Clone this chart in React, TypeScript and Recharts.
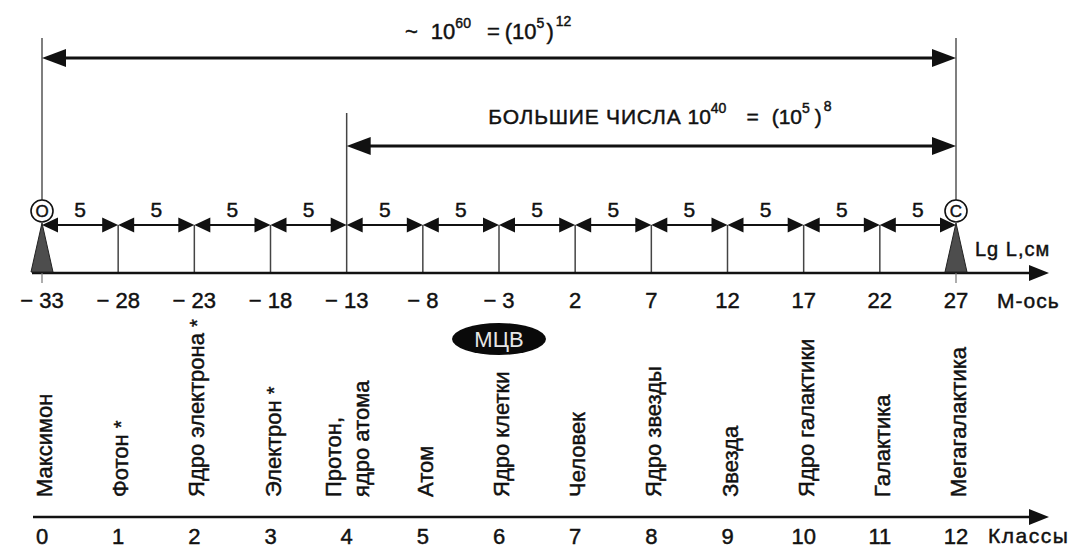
import React from 'react';
import { ComposedChart, XAxis, YAxis, ReferenceLine, ReferenceDot, Scatter } from 'recharts';

// М-ось: lg L, см
const mTicks = [-33, -28, -23, -18, -13, -8, -3, 2, 7, 12, 17, 22, 27];
const fullRange = [-33, 27];
const bigNumbersRange = [-13, 27];
const axisEnds = [
  { m: -33, letter: 'О' },
  { m: 27, letter: 'С' },
];

// классы
const classIds = [0, 1, 2, 3, 4, 5, 6, 7, 8, 9, 10, 11, 12];
const classNames = [
  'Максимон',
  'Фотон*',
  'Ядро электрона*',
  'Электрон*',
  'Протон,\nядро атома',
  'Атом',
  'Ядро клетки',
  'Человек',
  'Ядро звезды',
  'Звезда',
  'Ядро галактики',
  'Галактика',
  'Мегагалактика',
];
const mcvClass = 6;

const segments = mTicks.slice(1).map((to, i) => ({ from: mTicks[i], to, len: to - mTicks[i] }));
const innerTicks = mTicks.filter((t) => t !== fullRange[0] && t !== fullRange[1] && t !== bigNumbersRange[0]);

// layout (page px, both y-axes run in page pixels)
const W = 1079;
const H = 548;
const LEFT = 42;
const RIGHT = 123;
const Y_TOP_LINE = 38;
const Y_TOP_TEXT = 39;
const Y_TOP_ARROW = 58;
const Y_BIG_LINE = 113;
const Y_BIG_TEXT = 124;
const Y_BIG_ARROW = 146;
const Y_MARK = 211;
const Y_SEG = 225;
const Y_AXIS_M = 273;
const H_TOP = 322;
const Y_B0 = 310;
const Y_MCV = 339;
const Y_LABEL = 497;
const Y_AXIS_C = 517;

const FONT = '"Liberation Sans", Arial, sans-serif';
const INK = '#111';
const HEAVY = { stroke: INK, strokeWidth: 0.45 };

const fmtM = (v: number) => (v < 0 ? `\u2212\u00a0${Math.abs(v)}` : `${v}`);

const makeArrow =
  (head: number, half: number, width: number, start: boolean, end: boolean, ext: [number, number] = [0, 0]) =>
  (p: any) => {
    const x1 = p.x1 - ext[0];
    const x2 = p.x2 + ext[1];
    const y = p.y1;
    return (
      <g>
        <line
          x1={start ? x1 + head * 0.6 : x1}
          y1={y}
          x2={end ? x2 - head * 0.6 : x2}
          y2={y}
          stroke={INK}
          strokeWidth={width}
        />
        {start && <polygon points={`${x1},${y} ${x1 + head},${y - half} ${x1 + head},${y + half}`} fill={INK} />}
        {end && <polygon points={`${x2},${y} ${x2 - head},${y - half} ${x2 - head},${y + half}`} fill={INK} />}
      </g>
    );
  };

const bigArrow = makeArrow(24, 9, 3, true, true);
const segArrow = makeArrow(16, 7.5, 2, true, true);
const mAxisArrow = makeArrow(20, 8, 2.5, false, true, [10, 93]);
const cAxisArrow = makeArrow(20, 8, 2.5, false, true, [9, 93]);

const TopFormula = (p: any) => (
  <text x={p.cx - 94} y={p.cy} fontSize={22} fill={INK} {...HEAVY}>
    <tspan>~</tspan>
    <tspan dx={13}>10</tspan>
    <tspan dy={-11} fontSize={14}>60</tspan>
    <tspan dx={16} dy={11}>=</tspan>
    <tspan dx={5}>(10</tspan>
    <tspan dy={-11} fontSize={14}>5</tspan>
    <tspan dx={2} dy={11}>)</tspan>
    <tspan dx={2} dy={-13} fontSize={14}>12</tspan>
  </text>
);

const BigFormula = (p: any) => (
  <text x={p.cx - 163} y={p.cy} fontSize={21} fill={INK} {...HEAVY}>
    <tspan letterSpacing={0.8}>БОЛЬШИЕ ЧИСЛА</tspan>
    <tspan dx={6}>10</tspan>
    <tspan dy={-11} fontSize={14}>40</tspan>
    <tspan dx={20} dy={11}>=</tspan>
    <tspan dx={13}>(10</tspan>
    <tspan dy={-11} fontSize={14}>5</tspan>
    <tspan dx={5} dy={11}>)</tspan>
    <tspan dx={2} dy={-13} fontSize={14}>8</tspan>
  </text>
);

const EndMark = (letter: string) => (p: any) => (
  <g>
    <circle cx={p.cx} cy={p.cy} r={11} fill="#fff" stroke={INK} strokeWidth={1.6} />
    <text x={p.cx} y={p.cy + 6} textAnchor="middle" fontSize={17} fill={INK} {...HEAVY}>
      {letter}
    </text>
  </g>
);

const Pointer = (p: any) => (
  <g>
    <line x1={p.cx} y1={p.cy} x2={p.cx} y2={p.cy + 10} stroke="#777" strokeWidth={1.2} />
    <polygon
      points={`${p.cx},${p.cy - 50} ${p.cx - 11},${p.cy - 1} ${p.cx + 11},${p.cy - 1}`}
      fill="#4d4d4d"
      stroke="#222"
      strokeWidth={1}
    />
  </g>
);

const MAxisNames = (p: any) => (
  <g fill={INK}>
    <text x={p.cx + 19} y={p.cy - 17} fontSize={20} letterSpacing={1} {...HEAVY}>
      Lg L,см
    </text>
    <text x={p.cx + 41} y={p.cy + 35} fontSize={21} letterSpacing={1} {...HEAVY}>
      М-ось
    </text>
  </g>
);

const ClassAxisName = (p: any) => (
  <text x={p.cx + 32} y={p.cy + 26} fontSize={21} letterSpacing={1.5} fill={INK} {...HEAVY}>
    Классы
  </text>
);

const McvBadge = (p: any) => (
  <g>
    <ellipse cx={p.cx} cy={p.cy} rx={47} ry={16} fill="#0a0a0a" />
    <text x={p.cx} y={p.cy + 8} textAnchor="middle" fontSize={22} fill="#e6e6e6">
      МЦВ
    </text>
  </g>
);

const ClassLabel = (p: any) => {
  const raw: string = p.payload.name;
  const star = raw.endsWith('*');
  const lines = (star ? raw.slice(0, -1) : raw).split('\n');
  const x = p.cx + 10;
  const y = p.cy;
  return (
    <text x={x} y={y} transform={`rotate(-90 ${x} ${y})`} fontSize={22} fill={INK} {...HEAVY}>
      {lines.map((ln, i) => (
        <tspan key={i} x={x} dy={i === 0 ? -(lines.length - 1) * 16 : 28}>
          {ln}
        </tspan>
      ))}
      {star && (
        <tspan dx={6} fontSize={20}>
          *
        </tspan>
      )}
    </text>
  );
};

const classRows = classIds.map((c, i) => ({ cls: c, y: Y_LABEL, name: classNames[i] }));

const tickStyle = { fontSize: 22, fill: INK, ...HEAVY };

export default function App() {
  return (
    <div style={{ position: 'relative', width: W, height: H, fontFamily: FONT, background: '#fff' }}>
      <style>{'body{margin:0;background:#fff}'}</style>
      <div style={{ position: 'absolute', left: 0, top: 0 }}>
        <ComposedChart width={W} height={H_TOP} margin={{ top: 0, right: RIGHT, bottom: 0, left: LEFT }}>
          <XAxis
            type="number"
            dataKey="m"
            domain={fullRange}
            ticks={mTicks}
            interval={0}
            tickFormatter={fmtM}
            axisLine={false}
            tickLine={false}
            tickMargin={13}
            height={H_TOP - Y_AXIS_M}
            tick={tickStyle}
            allowDataOverflow
          />
          <YAxis type="number" domain={[0, Y_AXIS_M]} reversed hide allowDataOverflow />

          {/* границы полного диапазона */}
          {axisEnds.map((e) => (
            <ReferenceLine
              key={`v${e.m}`}
              segment={[{ x: e.m, y: Y_TOP_LINE }, { x: e.m, y: Y_MARK - 11 }]}
              stroke="#555"
              strokeWidth={1.5}
            />
          ))}
          <ReferenceLine
            segment={[{ x: fullRange[0], y: Y_TOP_ARROW }, { x: fullRange[1], y: Y_TOP_ARROW }]}
            shape={bigArrow}
          />
          <ReferenceDot x={(fullRange[0] + fullRange[1]) / 2} y={Y_TOP_TEXT} shape={TopFormula} />

          {/* большие числа */}
          <ReferenceLine
            segment={[{ x: bigNumbersRange[0], y: Y_BIG_LINE }, { x: bigNumbersRange[0], y: Y_AXIS_M }]}
            stroke="#444"
            strokeWidth={1.5}
          />
          <ReferenceLine
            segment={[{ x: bigNumbersRange[0], y: Y_BIG_ARROW }, { x: bigNumbersRange[1], y: Y_BIG_ARROW }]}
            shape={bigArrow}
          />
          <ReferenceDot x={(bigNumbersRange[0] + bigNumbersRange[1]) / 2} y={Y_BIG_TEXT} shape={BigFormula} />

          {/* шаги по 5 порядков */}
          {innerTicks.map((t) => (
            <ReferenceLine
              key={`t${t}`}
              segment={[{ x: t, y: Y_SEG }, { x: t, y: Y_AXIS_M }]}
              stroke="#444"
              strokeWidth={1.5}
            />
          ))}
          {segments.map((s) => (
            <ReferenceLine
              key={`s${s.from}`}
              segment={[{ x: s.from, y: Y_SEG }, { x: s.to, y: Y_SEG }]}
              shape={segArrow}
              label={{ value: s.len, position: 'top', offset: 8, fontSize: 21, fill: INK, ...HEAVY }}
            />
          ))}

          <ReferenceLine
            segment={[{ x: fullRange[0], y: Y_AXIS_M }, { x: fullRange[1], y: Y_AXIS_M }]}
            shape={mAxisArrow}
          />
          {axisEnds.map((e) => (
            <ReferenceDot key={`p${e.m}`} x={e.m} y={Y_AXIS_M} shape={Pointer} />
          ))}
          {axisEnds.map((e) => (
            <ReferenceDot key={`c${e.m}`} x={e.m} y={Y_MARK} shape={EndMark(e.letter)} />
          ))}
          <ReferenceDot x={fullRange[1]} y={Y_AXIS_M} shape={MAxisNames} />
        </ComposedChart>
      </div>

      <div style={{ position: 'absolute', left: 0, top: Y_B0 }}>
        <ComposedChart width={W} height={H - Y_B0} margin={{ top: 0, right: RIGHT, bottom: 0, left: LEFT }}>
          <XAxis
            type="number"
            dataKey="cls"
            domain={[classIds[0], classIds[classIds.length - 1]]}
            ticks={classIds}
            interval={0}
            axisLine={false}
            tickLine={false}
            tickMargin={5}
            height={H - Y_AXIS_C}
            tick={tickStyle}
          />
          <YAxis type="number" dataKey="y" domain={[Y_B0, Y_AXIS_C]} reversed hide />
          <ReferenceDot x={mcvClass} y={Y_MCV} shape={McvBadge} />
          {classIds.map((c) => (
            <ReferenceLine
              key={`ct${c}`}
              segment={[{ x: c, y: Y_AXIS_C - 5 }, { x: c, y: Y_AXIS_C + 4 }]}
              stroke="#666"
              strokeWidth={1.2}
            />
          ))}
          <ReferenceLine
            segment={[{ x: classIds[0], y: Y_AXIS_C }, { x: classIds[classIds.length - 1], y: Y_AXIS_C }]}
            shape={cAxisArrow}
          />
          <ReferenceDot x={classIds[classIds.length - 1]} y={Y_AXIS_C} shape={ClassAxisName} />
          <Scatter data={classRows} dataKey="y" shape={ClassLabel} isAnimationActive={false} />
        </ComposedChart>
      </div>
    </div>
  );
}
